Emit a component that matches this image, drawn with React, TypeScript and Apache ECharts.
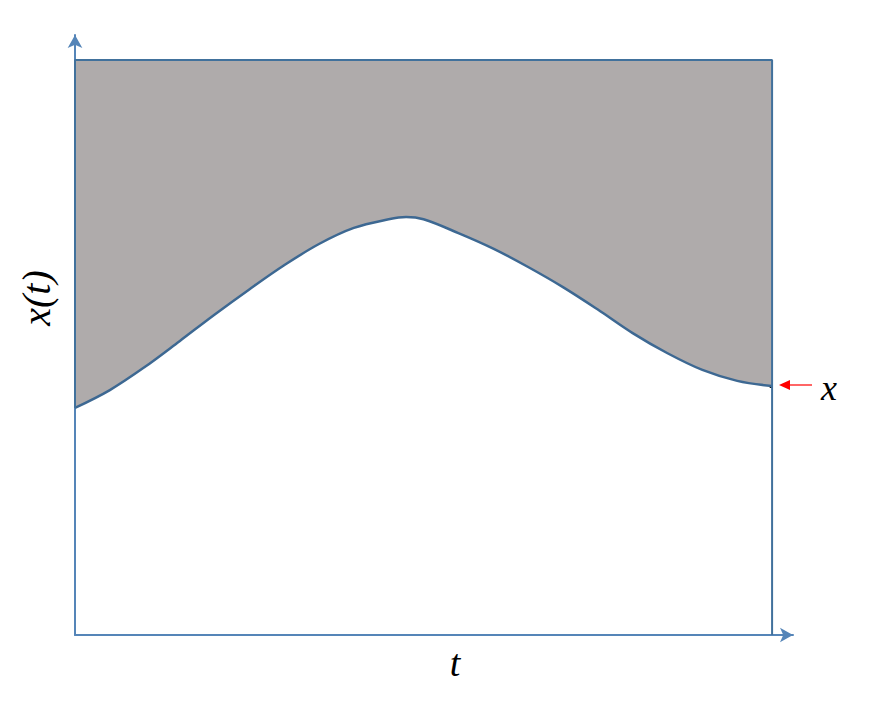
import React, { useEffect, useRef } from "react";
import * as echarts from "echarts";

// curve x(t): [t, value]
const curveT = [0, 5, 10, 15, 20, 25, 30, 35, 40, 45, 47.5, 50, 55, 60, 65, 70, 75, 80, 85, 90, 95, 100];
const curveX = [39.5, 42.6, 46.6, 51.1, 55.7, 60.1, 64.3, 68.0, 70.8, 72.3, 72.7, 72.3, 69.9, 67.2, 64.0, 60.5, 56.6, 52.5, 49.0, 46.1, 44.2, 43.3];
// box border: [t, value]
const boxT = [0, 0, 100, 100];
const boxV = [39.5, 100, 100, 0];
const topValue = 100;

const xMax = 103.0;
const yMax = 104.35;

export default function App() {
  const ref = useRef<HTMLDivElement>(null);
  useEffect(() => {
    if (!ref.current) return;
    const chart = echarts.init(ref.current, undefined, { renderer: "svg" });
    const curve = curveT.map((t, i) => [t, curveX[i]]);
    const box = boxT.map((t, i) => [t, boxV[i]]);
    const axisColor = "#5585b8";
    const font = { fontFamily: "Liberation Serif", fontStyle: "italic", fill: "#000", align: "center", verticalAlign: "middle" };
    chart.setOption({
      animation: false,
      backgroundColor: "#ffffff",
      grid: { left: 75, top: 35, width: 718, height: 600 },
      xAxis: {
        type: "value",
        min: 0,
        max: xMax,
        axisLine: { show: true, symbol: ["none", "arrow"], symbolSize: [11, 13], lineStyle: { color: axisColor, width: 2 } },
        axisTick: { show: false },
        axisLabel: { show: false },
        splitLine: { show: false },
      },
      yAxis: {
        type: "value",
        min: 0,
        max: yMax,
        axisLine: { show: true, symbol: ["none", "arrow"], symbolSize: [11, 13], lineStyle: { color: axisColor, width: 2 } },
        axisTick: { show: false },
        axisLabel: { show: false },
        splitLine: { show: false },
      },
      series: [
        {
          type: "line",
          data: curve,
          smooth: 0.35,
          showSymbol: false,
          lineStyle: { color: "#3d6892", width: 2.5 },
          areaStyle: { origin: topValue, color: "#afabab", opacity: 1 },
          z: 3,
        },
        {
          type: "line",
          data: box,
          showSymbol: false,
          lineStyle: { color: "#41719c", width: 2 },
          z: 4,
        },
      ],
      graphic: [
        { type: "line", shape: { x1: 812, y1: 385, x2: 789, y2: 385 }, style: { stroke: "#ff0000", lineWidth: 1.2 } },
        { type: "polygon", shape: { points: [[779, 385], [790, 380], [790, 390]] }, style: { fill: "#ff0000" } },
        { type: "circle", shape: { cx: 771, cy: 386, r: 2 }, style: { fill: "#000000" } },
        { type: "text", x: 829, y: 388, style: { ...font, text: "x", fontSize: 36 } },
        { type: "text", x: 455, y: 663, style: { ...font, text: "t", fontSize: 38 } },
        { type: "text", x: 36, y: 298, rotation: Math.PI / 2, style: { ...font, text: "x(t)", fontSize: 40 } },
      ],
    });
    return () => chart.dispose();
  }, []);
  return <div ref={ref} style={{ position: "fixed", left: 0, top: 0, width: 876, height: 708 }} />;
}
